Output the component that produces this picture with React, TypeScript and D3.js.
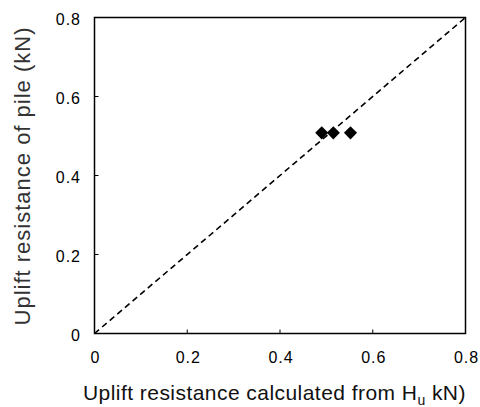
import React from "react";
import * as d3 from "d3";

const xValues = [0.49, 0.515, 0.552];
const yValues = [0.508, 0.508, 0.508];
const xTicks = [0, 0.2, 0.4, 0.6, 0.8];
const yTicks = [0, 0.2, 0.4, 0.6, 0.8];
const tickLabels = ["0", "0.2", "0.4", "0.6", "0.8"];
const lineDomain = [0, 0.8];

const W = 480, H = 407;
const L = 94.5, R = 465.5, T = 17.5, B = 333.5;

export default function App() {
  const x = d3.scaleLinear().domain([0, 0.8]).range([L, R]);
  const y = d3.scaleLinear().domain([0, 0.8]).range([B, T]);
  const diamond = d3.symbol().type(d3.symbolDiamond2).size(110)();
  const font = "'Liberation Sans', Arial, sans-serif";
  return (
    <svg width={W} height={H} style={{ position: "absolute", left: 0, top: 0 }}>
      <rect x={0} y={0} width={W} height={H} fill="#fff" />
      <line x1={x(lineDomain[0])} y1={y(lineDomain[0])} x2={x(lineDomain[1])} y2={y(lineDomain[1])}
        stroke="#000" strokeWidth={1.6} strokeDasharray="6,4" />
      <rect x={L} y={T} width={R - L} height={B - T} fill="none" stroke="#000" strokeWidth={1.5} />
      {xTicks.map((t, i) => (
        <g key={"x" + i}>
          {i > 0 && i < xTicks.length - 1 && (
            <line x1={x(t)} x2={x(t)} y1={B} y2={B - 4} stroke="#000" strokeWidth={1} />
          )}
          <text x={x(t) + 1} y={363} textAnchor="middle" fontFamily={font} fontSize={16} letterSpacing={1} fill="#000">
            {tickLabels[i]}
          </text>
        </g>
      ))}
      {yTicks.map((t, i) => (
        <g key={"y" + i}>
          {i > 0 && i < yTicks.length - 1 && (
            <line x1={L} x2={L + 4} y1={y(t)} y2={y(t)} stroke="#000" strokeWidth={1} />
          )}
          <text x={81} y={y(t) + 7} textAnchor="end" fontFamily={font} fontSize={16} letterSpacing={1} fill="#000">
            {tickLabels[i]}
          </text>
        </g>
      ))}
      {xValues.map((v, i) => (
        <path key={"p" + i} d={diamond} transform={`translate(${x(v)},${y(yValues[i])})`} fill="#000" />
      ))}
      <text x={83} y={400} fontFamily={font} fontSize={21} letterSpacing={0.45} fill="#111">
        Uplift resistance calculated from H
        <tspan fontSize={14} dy={5}>u</tspan>
        <tspan dy={-5}> kN)</tspan>
      </text>
      <text transform={`translate(30,176) rotate(-90)`} textAnchor="middle" fontFamily={font} fontSize={22} letterSpacing={1} fill="#333">
        Uplift resistance of pile (kN)
      </text>
    </svg>
  );
}
